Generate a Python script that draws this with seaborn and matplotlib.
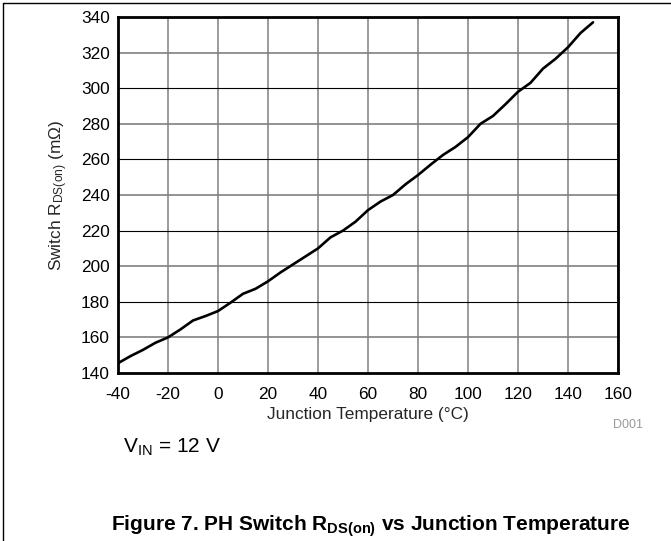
import matplotlib
matplotlib.use("Agg")
import matplotlib.pyplot as plt
import seaborn as sns
import pandas as pd
from matplotlib.lines import Line2D

temperature = [-40, -35, -30, -25, -20, -15, -10, -5, 0, 5, 10, 15, 20, 25, 30, 35,
               40, 45, 50, 55, 60, 65, 70, 75, 80, 85, 90, 95, 100, 105, 110, 115,
               120, 125, 130, 135, 140, 145, 150]
rds_on = [145.5, 149.5, 153, 157, 160, 164.5, 169.5, 172, 174.8, 179.5, 184.5, 187.3,
          191.5, 196.5, 201, 205.5, 210, 216.2, 220, 225, 231.5, 236.3, 240, 246,
          251.2, 257, 262.5, 267, 272.5, 280, 284.4, 291, 298, 303, 311, 316.5,
          323, 331, 337]
x_ticks = [-40, -20, 0, 20, 40, 60, 80, 100, 120, 140, 160]
y_ticks = [140, 160, 180, 200, 220, 240, 260, 280, 300, 320, 340]

df = pd.DataFrame({"T": temperature, "R": rds_on})

sns.set_style("white")
plt.rcParams["font.family"] = ["Liberation Sans", "DejaVu Sans"]
plt.rcParams["mathtext.fontset"] = "custom"
plt.rcParams["mathtext.rm"] = "Liberation Sans"
plt.rcParams["mathtext.it"] = "Liberation Sans:italic"
plt.rcParams["mathtext.bf"] = "Liberation Sans:weight=bold"
plt.rcParams["mathtext.default"] = "regular"

fig = plt.figure(figsize=(6.71, 5.41), dpi=100)
ax = fig.add_axes([118 / 671, 1 - 373 / 541, 500 / 671, 356 / 541])

sns.lineplot(data=df, x="T", y="R", ax=ax, color="black", linewidth=1.9, zorder=5)

ax.set_xlim(-40, 160)
ax.set_ylim(140, 340)
ax.set_xticks(x_ticks)
ax.set_yticks(y_ticks)
ax.set_xticklabels([str(v) for v in x_ticks])
ax.set_yticklabels([str(v) for v in y_ticks])
ax.tick_params(axis="both", length=0, labelsize=12.4, colors="black")
ax.tick_params(axis="x", pad=10)
ax.tick_params(axis="y", pad=6)

ax.grid(True, axis="x", color="#808080", linewidth=1.1)
ax.grid(True, axis="y", color="black", linewidth=0.8)
for i, gl in enumerate(ax.get_ygridlines()):
    if i % 2 == 1:
        gl.set_color("#808080")
        gl.set_linewidth(1.2)
ax.set_axisbelow(True)

for s in ax.spines.values():
    s.set_visible(True)
    s.set_color("black")
    s.set_linewidth(2.0)

ax.set_xlabel("Junction Temperature (°C)", fontsize=12.4, labelpad=4)
ax.set_ylabel("Switch R$_{DS(on)}$ (mΩ)", fontsize=12.4, labelpad=8)

fig.text(643 / 671, 1 - 425 / 541, "D001", fontsize=9, color="#9a9a9a",
         ha="right", va="center")
fig.text(123 / 671, 1 - 447 / 541, "V$_{IN}$ = 12 V", fontsize=15, color="black",
         ha="left", va="center")
fig.text(371 / 671, 1 - 526 / 541,
         "Figure 7. PH Switch R$_{\\mathbf{DS(on)}}$ vs Junction Temperature",
         fontsize=15, fontweight="bold", color="black", ha="center", va="center")

fig.add_artist(Line2D([3 / 671, 1.0], [1 - 3 / 541, 1 - 3 / 541], color="black",
                      linewidth=1.0, transform=fig.transFigure))
fig.add_artist(Line2D([3 / 671, 3 / 671], [0.0, 1 - 3 / 541], color="black",
                      linewidth=1.0, transform=fig.transFigure))

fig.savefig("out.png", dpi=100)
